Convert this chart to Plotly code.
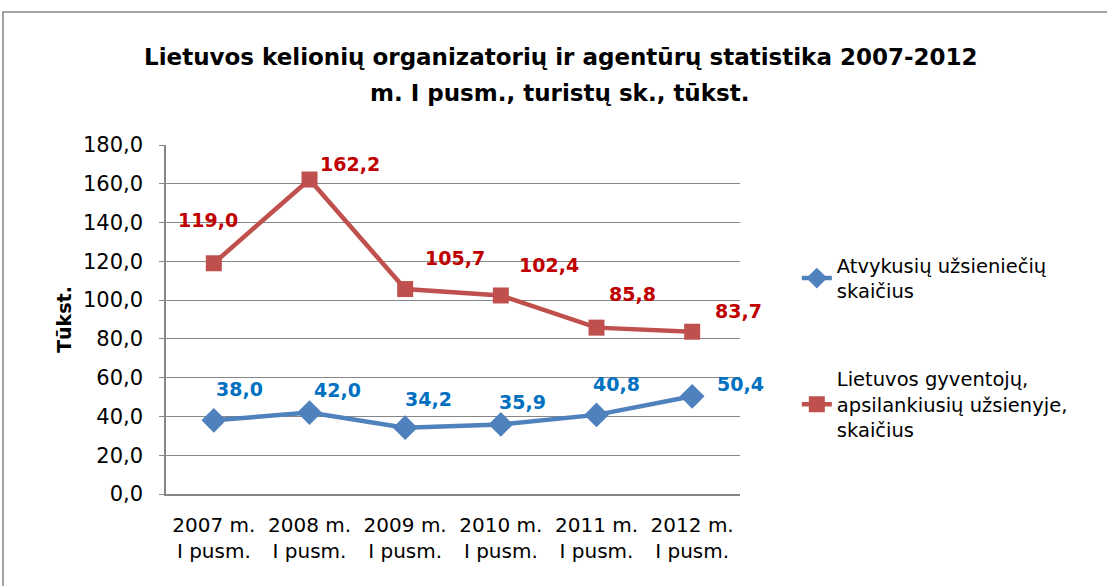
import plotly.graph_objects as go

categories = ["2007 m.<br>I pusm.", "2008 m.<br>I pusm.", "2009 m.<br>I pusm.",
              "2010 m.<br>I pusm.", "2011 m.<br>I pusm.", "2012 m.<br>I pusm."]
foreign = [38.0, 42.0, 34.2, 35.9, 40.8, 50.4]
residents = [119.0, 162.2, 105.7, 102.4, 85.8, 83.7]
foreign_name = "Atvykusių užsieniečių<br>skaičius"
residents_name = "Lietuvos gyventojų,<br>apsilankiusių užsienyje,<br>skaičius"
title_lines = ["Lietuvos kelionių organizatorių ir agentūrų statistika 2007-2012",
               "m. I pusm., turistų sk., tūkst."]
y_ticks = [0, 20, 40, 60, 80, 100, 120, 140, 160, 180]

# label offsets (px) relative to each point
red_off = [(-6, 43), (40, 16), (50, 31), (48, 30), (36, 34), (46, 21)]
blue_off = [(26, 31), (28, 23), (23, 29), (22, 22), (20, 31), (48, 12)]

FONT = "'DejaVu Sans', sans-serif"

fig = go.Figure()
fig.add_trace(go.Scatter(x=categories, y=foreign, name=foreign_name, mode="lines+markers",
                         line=dict(color="#4F81BD", width=4.5), legend="legend",
                         marker=dict(symbol="diamond", size=19, color="#4F81BD")))
fig.add_trace(go.Scatter(x=categories, y=residents, name=residents_name, mode="lines+markers",
                         line=dict(color="#C0504D", width=4.5), legend="legend2",
                         marker=dict(symbol="square", size=16, color="#C0504D")))

fmt = lambda v: f"{v:.1f}".replace(".", ",")
anns = []
for c, v, (dx, dy) in zip(categories, residents, red_off):
    anns.append(dict(x=c, y=v, text=f"<b>{fmt(v)}</b>", showarrow=False, xshift=dx, yshift=dy,
                     font=dict(size=19, color="#C00000", family=FONT)))
for c, v, (dx, dy) in zip(categories, foreign, blue_off):
    anns.append(dict(x=c, y=v, text=f"<b>{fmt(v)}</b>", showarrow=False, xshift=dx, yshift=dy,
                     font=dict(size=19, color="#0070C0", family=FONT)))
anns.append(dict(xref="paper", yref="paper", x=0.5, y=1.0, yshift=88, xanchor="center",
                 yanchor="middle", showarrow=False, xshift=108,
                 text=f"<b>{title_lines[0]}</b>", font=dict(size=23, color="black", family=FONT)))
anns.append(dict(xref="paper", yref="paper", x=0.5, y=1.0, yshift=52, xanchor="center",
                 yanchor="middle", showarrow=False, xshift=106,
                 text=f"<b>{title_lines[1]}</b>", font=dict(size=23, color="black", family=FONT)))

legend_common = dict(xanchor="left", yanchor="top", font=dict(size=19.5, family=FONT),
                     bgcolor="rgba(0,0,0,0)", itemwidth=30)

fig.update_layout(
    width=1107, height=586,
    margin=dict(l=166, r=367, t=145, b=92),
    paper_bgcolor="white", plot_bgcolor="white",
    font=dict(family=FONT, size=20, color="black"),
    showlegend=True,
    legend=dict(x=1.099, y=0.71, **legend_common),
    legend2=dict(x=1.099, y=0.385, **legend_common),
    annotations=anns,
    xaxis=dict(type="category", range=[-0.5, len(categories) - 0.5], showgrid=False,
               showline=True, linecolor="#868686", linewidth=1.5, ticks="",
               tickfont=dict(size=20, family=FONT), automargin=False, ticklabelstandoff=12),
    yaxis=dict(range=[0, 180], tickvals=y_ticks, ticktext=[fmt(t) for t in y_ticks],
               showgrid=True, gridcolor="#868686", gridwidth=1, showline=True,
               linecolor="#868686", linewidth=1.5, ticks="outside", ticklen=5,
               tickcolor="#868686", zeroline=False, tickfont=dict(size=21, family=FONT),
               automargin=False, ticklabelstandoff=12,
               title=dict(text="<b>Tūkst.</b>", font=dict(size=19, family=FONT), standoff=6)),
    shapes=[dict(type="rect", xref="paper", yref="paper", x0=-0.284, y0=-0.3, x1=1.7, y1=1.381,
                 line=dict(color="#868686", width=1.5), fillcolor="rgba(0,0,0,0)", layer="below")],
)

fig.write_html("out.html", config={"displayModeBar": False},
               post_script="document.body.style.margin='0';")
